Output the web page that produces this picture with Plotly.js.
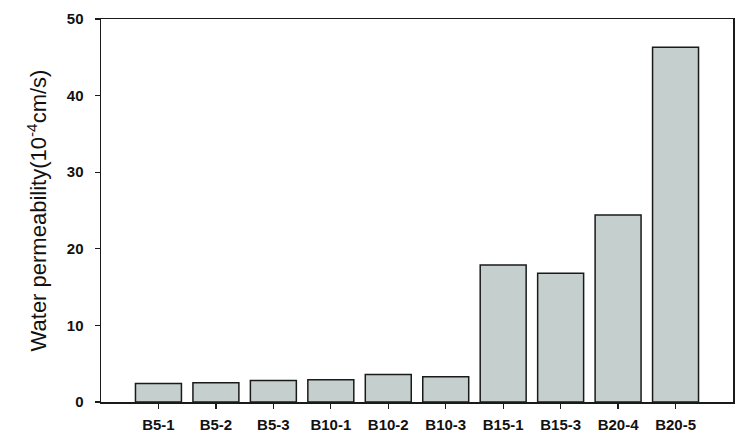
<!DOCTYPE html>
<html>
<head>
<meta charset="utf-8">
<script src="https://cdn.plot.ly/plotly-3.0.1.min.js"></script>
<style>html,body{margin:0;padding:0;background:#fff;}#chart{width:740px;height:446px;}</style>
</head>
<body>
<div id="chart"></div>
<script>
const categories = ["B5-1","B5-2","B5-3","B10-1","B10-2","B10-3","B15-1","B15-3","B20-4","B20-5"];
const permeability = [2.4, 2.5, 2.8, 2.9, 3.6, 3.3, 17.9, 16.8, 24.4, 46.3];
const yTicks = [0, 10, 20, 30, 40, 50];

const trace = {
  type: 'bar',
  x: categories,
  y: permeability,
  marker: {color: '#c5d0ce', line: {color: '#1a1a1a', width: 1.5}},
  hoverinfo: 'x+y'
};

const layout = {
  width: 740, height: 446,
  margin: {l: 101, r: 7, t: 19, b: 44},
  paper_bgcolor: '#ffffff', plot_bgcolor: '#ffffff',
  bargap: 0.2,
  showlegend: false,
  font: {family: 'Liberation Sans, Arial, sans-serif', color: '#111'},
  xaxis: {
    type: 'category',
    range: [-1, 10],
    showline: true, linecolor: '#1a1a1a', linewidth: 1.5, mirror: true,
    ticks: 'outside', ticklen: 5, tickwidth: 1.2, tickcolor: '#1a1a1a',
    showgrid: false, zeroline: false,
    tickfont: {size: 15, weight: 'bold', color: '#111'},
    ticklabelstandoff: 3
  },
  yaxis: {
    range: [0, 50],
    tickvals: yTicks,
    showline: true, linecolor: '#1a1a1a', linewidth: 1.5, mirror: true,
    ticks: 'outside', ticklen: 5, tickwidth: 1.2, tickcolor: '#1a1a1a',
    showgrid: false, zeroline: false,
    tickfont: {size: 15, weight: 'bold', color: '#111'},
    ticklabelstandoff: 8,
    title: {text: 'Water permeability(10<sup>-4</sup>cm/s)', font: {size: 22, color: '#111'}, standoff: 14}
  }
};

Plotly.newPlot('chart', [trace], layout, {displayModeBar: false, staticPlot: true});
</script>
</body>
</html>
